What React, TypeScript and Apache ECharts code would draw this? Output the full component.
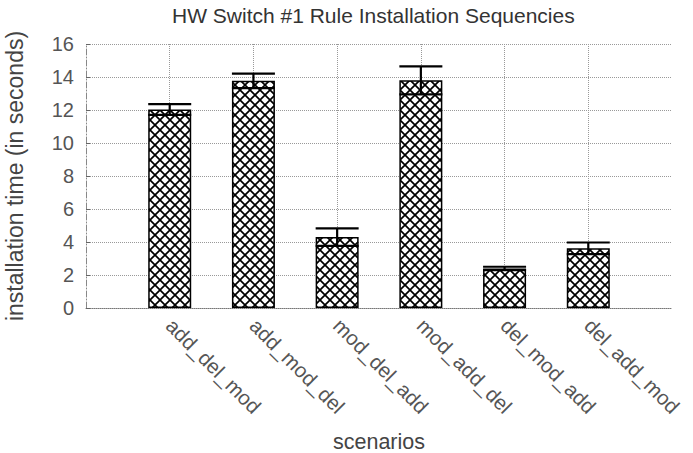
import React, { useEffect, useRef } from "react";
import * as echarts from "echarts";

const titleText = "HW Switch #1 Rule Installation Sequencies";
const categories = ["add_del_mod", "add_mod_del", "mod_del_add", "mod_add_del", "del_mod_add", "del_add_mod"];
const means = [12.03, 13.77, 4.3, 13.8, 2.4, 3.62];
const errors = [0.33, 0.44, 0.53, 0.85, 0.1, 0.35];
const yTicks = [0, 2, 4, 6, 8, 10, 12, 14, 16];
const yName = "installation time (in seconds)";
const xName = "scenarios";

const FONT = "'Liberation Sans', Arial, Helvetica, sans-serif";

const hatchSvg =
  "<svg xmlns='http://www.w3.org/2000/svg' width='10' height='10'>" +
  "<rect width='10' height='10' fill='white'/>" +
  "<path d='M0,0L10,10M10,0L0,10' stroke='black' stroke-width='1.7' fill='none'/>" +
  "</svg>";
const hatchUrl = "data:image/svg+xml;charset=utf-8," + encodeURIComponent(hatchSvg);

export default function App() {
  const ref = useRef<HTMLDivElement>(null);
  useEffect(() => {
    if (!ref.current) return;
    const chart = echarts.init(ref.current, null, { renderer: "svg" });
    const barData = means.map((m, i) => [i + 1, m]);
    const errData = means.map((m, i) => [i + 1, m - errors[i], m + errors[i]]);
    chart.setOption({
      animation: false,
      backgroundColor: "#ffffff",
      title: {
        text: titleText,
        left: 167,
        top: 0,
        textStyle: { fontFamily: FONT, fontSize: 21, fontWeight: "normal", color: "#333" },
      },
      grid: { left: 86, right: 21, top: 44, bottom: 145, containLabel: false, outerBoundsMode: "none" },
      xAxis: {
        type: "value",
        min: 0,
        max: 7,
        interval: 1,
        name: xName,
        nameLocation: "middle",
        nameGap: 123,
        nameTextStyle: { fontFamily: FONT, fontSize: 21.5, color: "#444" },
        axisLine: { show: true, lineStyle: { color: "#777", type: "dotted", width: 1 } },
        axisTick: { show: false },
        axisLabel: {
          rotate: -45,
          margin: 14,
          fontFamily: FONT,
          fontSize: 20.5,
          color: "#555",
          showMinLabel: true,
          showMaxLabel: true,
          formatter: (v: number) => categories[Math.round(v) - 1] || "",
        },
        splitLine: {
          show: true,
          showMinLine: false,
          showMaxLine: false,
          lineStyle: { color: "#999", type: "dotted", width: 1 },
        },
      },
      yAxis: {
        type: "value",
        min: yTicks[0],
        max: yTicks[yTicks.length - 1],
        interval: 2,
        name: yName,
        nameLocation: "middle",
        nameGap: 60,
        nameTextStyle: { fontFamily: FONT, fontSize: 23, color: "#444" },
        axisLine: { show: true, lineStyle: { color: "#888", type: [6, 2, 1, 2], width: 1 } },
        axisTick: { show: true, inside: true, length: 4, lineStyle: { color: "#666" } },
        axisLabel: { margin: 12, fontFamily: FONT, fontSize: 20, color: "#555" },
        splitLine: { show: true, lineStyle: { color: "#999", type: "dotted", width: 1 } },
      },
      series: [
        {
          type: "bar",
          data: barData,
          barWidth: 43,
          itemStyle: {
            color: {
              image: hatchUrl,
              repeat: "repeat",
              imageWidth: 10,
              imageHeight: 10,
            },
            borderColor: "#000",
            borderWidth: 1.5,
          },
          z: 2,
        },
        {
          type: "custom",
          data: errData,
          encode: { x: 0, y: [1, 2] },
          z: 5,
          renderItem: (params: any, api: any) => {
            const x = api.value(0);
            const lo = api.coord([x, api.value(1)]);
            const hi = api.coord([x, api.value(2)]);
            const hw = 21.5;
            const style = { stroke: "#000", lineWidth: 2.2, fill: "none" };
            return {
              type: "group",
              children: [
                { type: "line", shape: { x1: lo[0], y1: lo[1], x2: hi[0], y2: hi[1] }, style },
                { type: "line", shape: { x1: hi[0] - hw, y1: hi[1], x2: hi[0] + hw, y2: hi[1] }, style },
                { type: "line", shape: { x1: lo[0] - hw, y1: lo[1], x2: lo[0] + hw, y2: lo[1] }, style },
              ],
            };
          },
        },
      ],
    });
    return () => chart.dispose();
  }, []);
  return <div ref={ref} style={{ width: 693, height: 453, position: "absolute", left: 0, top: 0 }} />;
}
